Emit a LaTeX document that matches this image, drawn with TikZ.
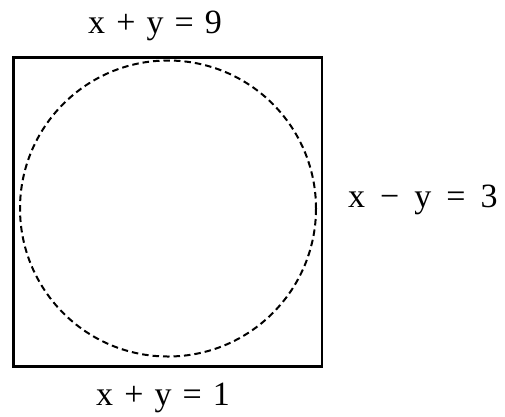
\documentclass[tikz,border=0pt]{standalone}
\usepackage{fontspec}
\setmainfont{Liberation Serif}[WordSpace=1.3]
\tikzset{lbl/.style={inner sep=0pt,font=\fontsize{34}{40}\selectfont}}
\begin{document}
\begin{tikzpicture}[x=1pt,y=-1pt]
      \useasboundingbox (0,0) rectangle (505,416);
      \draw[line width=2.5pt] (13.5,57.5) rectangle (322,366.5);
      \draw[line width=2pt,dash pattern=on 6.5pt off 4pt] (168,208.5) circle[radius=148];

      \node[lbl,anchor=base] (T) at (155,33){x + y = 9};
      \node[lbl,anchor=base west] (R) at (348,207){\spaceskip=15pt\relax x − y = 3};
      \node[lbl,anchor=base] (B) at (163,405){x + y = 1};
    \end{tikzpicture}
\end{document}
